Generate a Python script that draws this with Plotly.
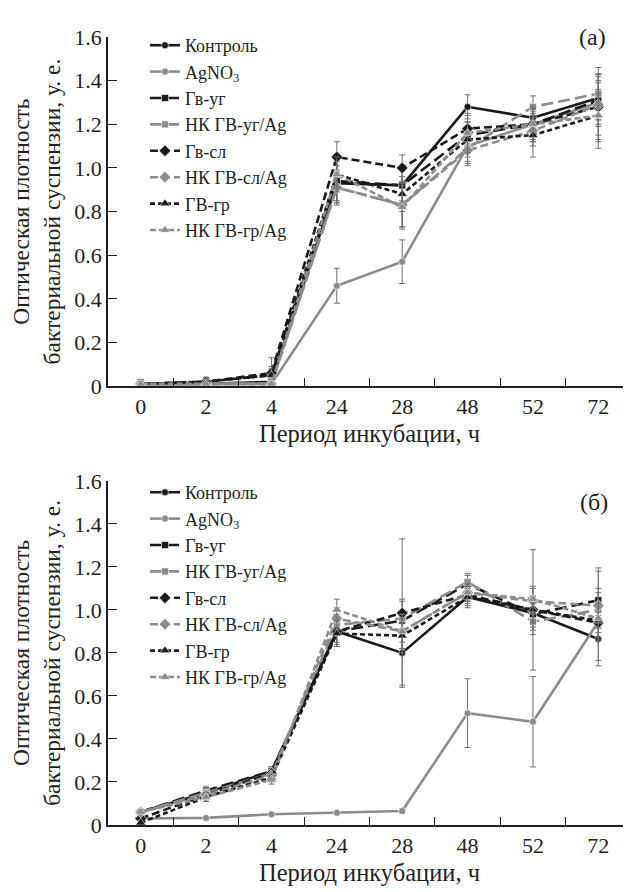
import plotly.graph_objects as go

categories = ["0", "2", "4", "24", "28", "48", "52", "72"]
series_names = ["Контроль", "AgNO<sub>3</sub>", "Гв-уг", "НК ГВ-уг/Ag",
                "Гв-сл", "НК ГВ-сл/Ag", "ГВ-гр", "НК ГВ-гр/Ag"]

# Panel (а)
a_control = [0.01, 0.01, 0.02, 0.93, 0.92, 1.28, 1.23, 1.32]
a_agno3 = [0.01, 0.01, 0.01, 0.46, 0.57, 1.10, 1.20, 1.30]
a_gv_ug = [0.01, 0.02, 0.05, 0.94, 0.92, 1.15, 1.20, 1.31]
a_nk_ug = [0.01, 0.01, 0.01, 0.91, 0.83, 1.09, 1.28, 1.34]
a_gv_sl = [0.01, 0.02, 0.06, 1.05, 1.00, 1.18, 1.20, 1.28]
a_nk_sl = [0.01, 0.01, 0.01, 0.91, 0.83, 1.08, 1.17, 1.29]
a_gv_gr = [0.01, 0.02, 0.05, 0.97, 0.88, 1.13, 1.15, 1.24]
a_nk_gr = [0.01, 0.01, 0.01, 0.97, 0.82, 1.16, 1.20, 1.24]

a_control_err = [0.01, 0.01, 0.02, 0.08, 0.07, 0.055, 0.06, 0.10]
a_agno3_err = [0.005, 0.005, 0.005, 0.08, 0.10, 0.07, 0.06, 0.10]
a_gv_ug_err = [0.01, 0.01, 0.03, 0.10, 0.08, 0.06, 0.08, 0.12]
a_nk_ug_err = [0.02, 0.02, 0.02, 0.07, 0.10, 0.07, 0.05, 0.12]
a_gv_sl_err = [0.01, 0.01, 0.07, 0.07, 0.06, 0.06, 0.07, 0.15]
a_nk_sl_err = [0.02, 0.02, 0.02, 0.08, 0.10, 0.07, 0.07, 0.14]
a_gv_gr_err = [0.01, 0.02, 0.04, 0.08, 0.08, 0.08, 0.10, 0.15]
a_nk_gr_err = [0.02, 0.03, 0.02, 0.06, 0.10, 0.09, 0.08, 0.12]

# Panel (б)
b_control = [0.06, 0.15, 0.25, 0.90, 0.80, 1.06, 0.985, 0.865]
b_agno3 = [0.03, 0.033, 0.05, 0.057, 0.065, 0.52, 0.48, 0.945]
b_gv_ug = [0.06, 0.16, 0.25, 0.90, 0.95, 1.12, 0.98, 1.045]
b_nk_ug = [0.06, 0.15, 0.24, 0.93, 0.96, 1.13, 0.945, 1.00]
b_gv_sl = [0.03, 0.14, 0.24, 0.90, 0.985, 1.07, 1.00, 0.94]
b_nk_sl = [0.06, 0.14, 0.23, 0.96, 0.90, 1.08, 1.04, 1.02]
b_gv_gr = [0.01, 0.13, 0.22, 0.89, 0.88, 1.06, 1.00, 0.95]
b_nk_gr = [0.06, 0.13, 0.21, 1.00, 0.90, 1.08, 1.05, 0.96]

b_control_err = [0.01, 0.01, 0.02, 0.07, 0.15, 0.05, 0.08, 0.10]
b_agno3_err = [0.005, 0.005, 0.005, 0.005, 0.01, 0.16, 0.21, 0.03]
b_gv_ug_err = [0.01, 0.02, 0.02, 0.05, 0.10, 0.04, 0.06, 0.15]
b_nk_ug_err = [0.01, 0.02, 0.02, 0.05, 0.08, 0.04, 0.06, 0.08]
b_gv_sl_err = [0.01, 0.02, 0.02, 0.06, 0.345, 0.04, 0.28, 0.08]
b_nk_sl_err = [0.01, 0.02, 0.02, 0.05, 0.08, 0.04, 0.06, 0.08]
b_gv_gr_err = [0.01, 0.02, 0.02, 0.06, 0.08, 0.04, 0.06, 0.08]
b_nk_gr_err = [0.01, 0.02, 0.02, 0.05, 0.08, 0.04, 0.06, 0.22]

BLACK = "#1a1a1a"
GRAY = "#8c8c8c"
TEXT = "#231f20"
FONT = "Liberation Serif, Times New Roman, serif"

styles = [
    dict(color=BLACK, dash="solid", symbol="circle", size=7),
    dict(color=GRAY, dash="solid", symbol="circle", size=7),
    dict(color=BLACK, dash="12px,5px", symbol="square", size=7),
    dict(color=GRAY, dash="12px,5px", symbol="square", size=7),
    dict(color=BLACK, dash="8px,4px", symbol="diamond", size=9),
    dict(color=GRAY, dash="8px,4px", symbol="diamond", size=9),
    dict(color=BLACK, dash="5px,3px", symbol="triangle-up", size=9),
    dict(color=GRAY, dash="6px,3px", symbol="triangle-up", size=9),
]

a_vals = [a_control, a_agno3, a_gv_ug, a_nk_ug, a_gv_sl, a_nk_sl, a_gv_gr, a_nk_gr]
a_errs = [a_control_err, a_agno3_err, a_gv_ug_err, a_nk_ug_err, a_gv_sl_err, a_nk_sl_err, a_gv_gr_err, a_nk_gr_err]
b_vals = [b_control, b_agno3, b_gv_ug, b_nk_ug, b_gv_sl, b_nk_sl, b_gv_gr, b_nk_gr]
b_errs = [b_control_err, b_agno3_err, b_gv_ug_err, b_nk_ug_err, b_gv_sl_err, b_nk_sl_err, b_gv_gr_err, b_nk_gr_err]

fig = go.Figure()

def add_panel(vals, errs, xaxis, yaxis, legend):
    for name, v, e, st in zip(series_names, vals, errs, styles):
        fig.add_trace(go.Scatter(
            x=categories, y=v, name=name, mode="lines+markers",
            xaxis=xaxis, yaxis=yaxis, legend=legend,
            line=dict(color=st["color"], dash=st["dash"], width=2.6),
            marker=dict(symbol=st["symbol"], size=st["size"], color=st["color"],
                        line=dict(color="white", width=0.6)),
            error_y=dict(type="data", array=e, visible=True, color="#6e6e6e",
                         thickness=1, width=3),
        ))

add_panel(a_vals, a_errs, "x", "y", "legend")
add_panel(b_vals, b_errs, "x2", "y2", "legend2")

tickvals_y = [0, 0.2, 0.4, 0.6, 0.8, 1.0, 1.2, 1.4, 1.6]
ticktext_y = ["0", "0.2", "0.4", "0.6", "0.8", "1.0", "1.2", "1.4", "1.6"]

tick_font = dict(family=FONT, size=22, color=TEXT)
ytitle = "Оптическая плотность<br>бактериальной суспензии, у. е."

common_x = dict(type="category", categoryorder="array", categoryarray=categories,
                range=[-0.5, 7.5], tickson="boundaries", ticks="inside", ticklen=8,
                tickcolor=TEXT, tickwidth=1.3, showline=True, linecolor=TEXT,
                linewidth=1.5, showgrid=False, zeroline=False, tickfont=tick_font,
                automargin=False,
                title=dict(text="Период инкубации, ч",
                           font=dict(family=FONT, size=24.5, color=TEXT), standoff=7))
common_y = dict(range=[0, 1.6], tickvals=tickvals_y, ticktext=ticktext_y,
                ticks="inside", ticklen=9, tickcolor=TEXT, tickwidth=1.3,
                showline=True, linecolor=TEXT, linewidth=1.5, showgrid=False,
                zeroline=False, tickfont=tick_font, automargin=False,
                title=dict(text=ytitle, font=dict(family=FONT, size=23.5, color=TEXT),
                           standoff=8))

legend_common = dict(font=dict(family=FONT, size=18, color=TEXT),
                     bgcolor="rgba(0,0,0,0)", xanchor="left", yanchor="top",
                     tracegroupgap=0)

# the page body adds an 8 px offset, so the figure is sized to the visible area
fig.update_layout(
    width=623, height=884,
    margin=dict(l=100, r=0, t=29, b=67),
    paper_bgcolor="white", plot_bgcolor="white",
    showlegend=True,
    xaxis=dict(common_x, domain=[0, 1], anchor="y"),
    yaxis=dict(common_y, domain=[0.557, 1], anchor="x"),
    xaxis2=dict(common_x, domain=[0, 1], anchor="y2"),
    yaxis2=dict(common_y, domain=[0, 0.4368], anchor="x2"),
    legend=dict(legend_common, x=0.0707, y=1.0127),
    legend2=dict(legend_common, x=0.0707, y=0.4454),
    annotations=[
        dict(text="(а)", x=0.927, y=1.0, xref="paper", yref="paper", showarrow=False,
             font=dict(family=FONT, size=24, color=TEXT), xanchor="center", yanchor="middle"),
        dict(text="(б)", x=0.929, y=0.41, xref="paper", yref="paper", showarrow=False,
             font=dict(family=FONT, size=24, color=TEXT), xanchor="center", yanchor="middle"),
    ],
)

fig.write_html("out.html")
